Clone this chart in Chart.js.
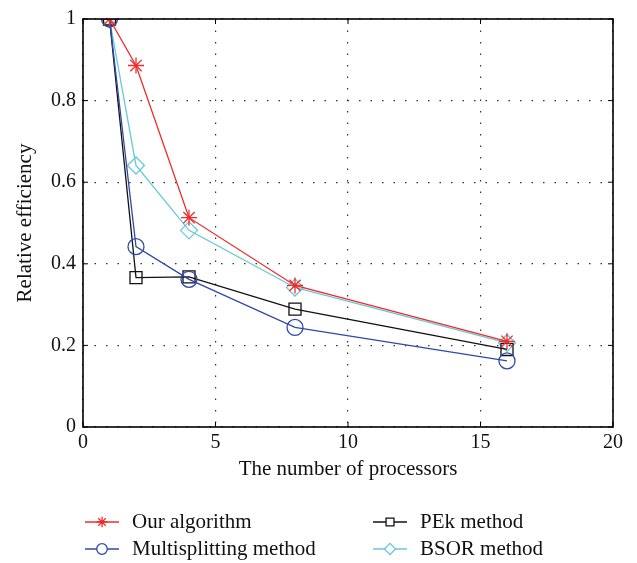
<!DOCTYPE html>
<html>
<head>
<meta charset="utf-8">
<script src="https://cdn.jsdelivr.net/npm/chart.js@4/dist/chart.umd.min.js"></script>
<style>
  html, body { margin: 0; padding: 0; background: #fff; }
  #wrap { width: 637px; height: 563px; position: relative; }
</style>
</head>
<body>
<div id="wrap"><canvas id="chart" width="637" height="563"></canvas></div>
<script>
// ===== Data =====
const processors   = [1, 2, 4, 8, 16];
const ourAlgorithm = [1, 0.886, 0.513, 0.347, 0.210];
const multisplit   = [1, 0.442, 0.362, 0.244, 0.162];
const pekMethod    = [1, 0.366, 0.368, 0.289, 0.190];
const bsorMethod   = [1, 0.641, 0.482, 0.342, 0.206];

const xTicks = [0, 5, 10, 15, 20];
const yTicks = [0, 0.2, 0.4, 0.6, 0.8, 1];

const FONT = "'Liberation Serif', 'Times New Roman', serif";

// Series definitions (legend order)
const SERIES = [
  { label: "Our algorithm",         data: ourAlgorithm, color: "#ee2b2b", style: "star",    radius: 8   },
  { label: "Multisplitting method", data: multisplit,   color: "#2f4aa8", style: "circle",  radius: 8   },
  { label: "PEk method",            data: pekMethod,    color: "#111111", style: "rect",    radius: 8.5 },
  { label: "BSOR method",           data: bsorMethod,   color: "#66c8d8", style: "rectRot", radius: 8.5 },
];

function toPoints(arr) {
  return processors.map((p, i) => ({ x: p, y: arr[i] }));
}

// Frame box, inward ticks and the two-column legend
const framePlugin = {
  id: "frame",
  afterDraw(chart) {
    const { ctx, chartArea: a, scales } = chart;
    ctx.save();
    ctx.strokeStyle = "#000";
    ctx.lineWidth = 1.6;
    ctx.strokeRect(a.left, a.top, a.right - a.left, a.bottom - a.top);

    ctx.lineWidth = 1;
    ctx.beginPath();
    xTicks.forEach(v => {
      const x = scales.x.getPixelForValue(v);
      ctx.moveTo(x, a.bottom); ctx.lineTo(x, a.bottom - 5);
      ctx.moveTo(x, a.top);    ctx.lineTo(x, a.top + 5);
    });
    yTicks.forEach(v => {
      const y = scales.y.getPixelForValue(v);
      ctx.moveTo(a.left, y);  ctx.lineTo(a.left + 5, y);
      ctx.moveTo(a.right, y); ctx.lineTo(a.right - 5, y);
    });
    ctx.stroke();

    // legend
    const cols = [85, 373];
    const rows = [522, 549];
    ctx.font = "21px " + FONT;
    ctx.textBaseline = "middle";
    SERIES.forEach((s, i) => {
      const x0 = cols[Math.floor(i / 2)];
      const y0 = rows[i % 2];
      ctx.strokeStyle = s.color;
      ctx.lineWidth = 1.3;
      ctx.beginPath();
      ctx.moveTo(x0, y0); ctx.lineTo(x0 + 34, y0);
      ctx.stroke();
      ctx.fillStyle = "#fff";
      Chart.helpers.drawPoint(ctx, {
        pointStyle: s.style, radius: s.radius * 0.66, rotation: 0, borderWidth: 1.3
      }, x0 + 17, y0);
      ctx.fillStyle = "#111";
      ctx.fillText(s.label, x0 + 47, y0);
    });
    ctx.restore();
  }
};

new Chart(document.getElementById("chart"), {
  type: "line",
  data: {
    datasets: SERIES.map(s => ({
      label: s.label,
      data: toPoints(s.data),
      borderColor: s.color,
      backgroundColor: "rgba(0,0,0,0)",
      pointBorderColor: s.color,
      pointBackgroundColor: "rgba(0,0,0,0)",
      pointStyle: s.style,
      pointRadius: s.radius,
      pointBorderWidth: 1.3,
      borderWidth: 1.3,
      tension: 0,
      fill: false,
    }))
  },
  options: {
    responsive: false,
    animation: false,
    layout: { padding: { left: 0, top: 15, right: 24, bottom: 80 } },
    plugins: {
      legend: { display: false },
      tooltip: { enabled: false },
    },
    scales: {
      x: {
        type: "linear",
        min: 0, max: 20,
        afterFit(scale) { scale.height = 56; },
        afterBuildTicks(scale) { scale.ticks = xTicks.map(v => ({ value: v })); },
        ticks: { color: "#111", font: { family: FONT, size: 20 }, padding: 4, callback: v => String(v) },
        grid: { color: "#333", lineWidth: 1.2, drawTicks: false },
        border: { display: false, dash: [1.5, 10] },
        title: {
          display: true, text: "The number of processors", color: "#111",
          font: { family: FONT, size: 21 }, padding: { top: 0, bottom: 1 }
        }
      },
      y: {
        type: "linear",
        min: 0, max: 1,
        afterFit(scale) { scale.width = 83; },
        afterBuildTicks(scale) { scale.ticks = yTicks.map(v => ({ value: v })); },
        ticks: { color: "#111", font: { family: FONT, size: 20 }, padding: 7, callback: v => String(v) },
        grid: { color: "#333", lineWidth: 1.2, drawTicks: false },
        border: { display: false, dash: [1.5, 10] },
        title: {
          display: true, text: "Relative efficiency", color: "#111",
          font: { family: FONT, size: 21 }, padding: { top: 13, bottom: 0 }
        }
      }
    }
  },
  plugins: [framePlugin]
});
</script>
</body>
</html>
